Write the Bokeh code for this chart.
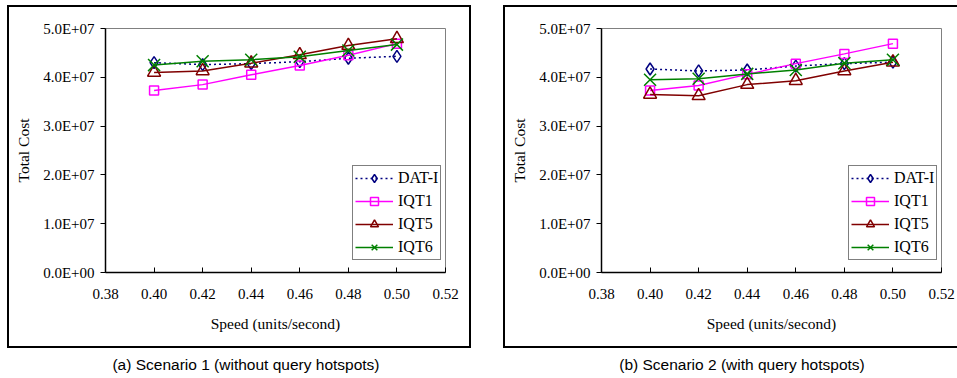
from bokeh.plotting import figure
from bokeh.models import (Range1d, FixedTicker, Legend, LegendItem, Div)
from bokeh.layouts import row, column
from bokeh.embed import file_html
from bokeh.resources import INLINE

# ---------------- data ----------------
speed = [0.40, 0.42, 0.44, 0.46, 0.48, 0.50]

s1_dati = [4.30e7, 4.26e7, 4.28e7, 4.32e7, 4.39e7, 4.43e7]
s1_iqt1 = [3.73e7, 3.85e7, 4.05e7, 4.24e7, 4.45e7, 4.69e7]
s1_iqt5 = [4.10e7, 4.13e7, 4.29e7, 4.46e7, 4.65e7, 4.79e7]
s1_iqt6 = [4.25e7, 4.33e7, 4.36e7, 4.42e7, 4.55e7, 4.67e7]

s2_dati = [4.17e7, 4.13e7, 4.15e7, 4.23e7, 4.28e7, 4.31e7]
s2_iqt1 = [3.73e7, 3.83e7, 4.06e7, 4.28e7, 4.48e7, 4.69e7]
s2_iqt5 = [3.65e7, 3.62e7, 3.85e7, 3.93e7, 4.13e7, 4.31e7]
s2_iqt6 = [3.95e7, 3.97e7, 4.07e7, 4.15e7, 4.29e7, 4.36e7]

series_names = ["DAT-I", "IQT1", "IQT5", "IQT6"]

x_ticks = [0.38, 0.40, 0.42, 0.44, 0.46, 0.48, 0.50, 0.52]
x_tick_labels = ["0.38", "0.40", "0.42", "0.44", "0.46", "0.48", "0.50", "0.52"]
y_ticks = [0, 10000000, 20000000, 30000000, 40000000, 50000000]
y_tick_labels = ["0.0E+00", "1.0E+07", "2.0E+07", "3.0E+07", "4.0E+07", "5.0E+07"]

captions = ["(a) Scenario 1 (without query hotspots)",
            "(b) Scenario 2 (with query hotspots)"]

SERIF = "Liberation Serif"

styles = {
    "DAT-I": dict(color="#000080", marker="diamond", size=12, dash="2 3"),
    "IQT1": dict(color="#FF00FF", marker="square", size=9, dash="solid"),
    "IQT5": dict(color="#800000", marker="triangle", size=13, dash="solid"),
    "IQT6": dict(color="#008000", marker="x", size=17, dash="solid"),
}


def make_panel(values, width, left_border, right_border):
    p = figure(width=width, height=339, output_backend="svg", toolbar_location=None,
               x_range=Range1d(0.38, 0.52), y_range=Range1d(0, 5e7),
               min_border_left=left_border, min_border_right=right_border,
               min_border_top=21, min_border_bottom=74)
    p.xgrid.visible = False
    p.ygrid.visible = False
    p.outline_line_color = "#808080"
    p.outline_line_width = 1
    p.background_fill_color = "white"
    p.border_fill_color = "white"

    p.xaxis.ticker = FixedTicker(ticks=x_ticks)
    p.xaxis.major_label_overrides = {t: l for t, l in zip(x_ticks, x_tick_labels)}
    p.yaxis.ticker = FixedTicker(ticks=y_ticks)
    p.yaxis.major_label_overrides = {t: l for t, l in zip(y_ticks, y_tick_labels)}
    for ax in (p.xaxis, p.yaxis):
        ax.axis_line_color = "black"
        ax.axis_line_width = 1.5
        ax.major_tick_line_color = "black"
        ax.major_tick_line_width = 1
        ax.minor_tick_line_color = None
        ax.major_label_text_font = SERIF
        ax.major_label_text_color = "black"
        ax.axis_label_text_font = SERIF
        ax.axis_label_text_font_style = "normal"
        ax.axis_label_text_font_size = "15.5px"
        ax.axis_label_text_color = "black"
    p.xaxis.major_tick_in = 5
    p.xaxis.major_tick_out = 0
    p.xaxis.major_label_text_font_size = "15px"
    p.xaxis.major_label_standoff = 16
    p.xaxis.axis_label = "Speed (units/second)"
    p.xaxis.axis_label_standoff = 13
    p.yaxis.major_tick_in = 0
    p.yaxis.major_tick_out = 5
    p.yaxis.major_label_text_font_size = "15px"
    p.yaxis.major_label_standoff = 6
    p.yaxis.axis_label = "Total Cost"
    p.yaxis.axis_label_standoff = 8

    items = []
    for name, ys in zip(series_names, values):
        st = styles[name]
        ln = p.line(speed, ys, line_color=st["color"], line_width=1.5, line_dash=st["dash"])
        mk = p.scatter(speed, ys, marker=st["marker"], size=st["size"],
                       line_color=st["color"], line_width=1.5, fill_color=None)
        items.append(LegendItem(label=name, renderers=[ln, mk]))

    legend = Legend(items=items, location=(247, 12),
                    label_text_font=SERIF, label_text_font_size="16px",
                    label_text_color="black",
                    glyph_width=38, glyph_height=20, label_height=20,
                    label_standoff=5, spacing=3, padding=2, margin=0,
                    border_line_color="black", border_line_width=1.5,
                    background_fill_color="white", background_fill_alpha=1)
    p.add_layout(legend)
    return p


p1 = make_panel([s1_dati, s1_iqt1, s1_iqt5, s1_iqt6], 460, 96, 24)
p2 = make_panel([s2_dati, s2_iqt1, s2_iqt5, s2_iqt6], 452, 96, 16)

c1 = column(p1, margin=(5, 0, 0, 7), styles={"border": "2px solid black"})
c2 = column(p2, margin=(5, 0, 0, 32),
            styles={"border": "2px solid black", "border-right": "none"})

cap_style = {"font-family": "Liberation Sans", "font-size": "15.5px", "color": "black",
             "text-align": "center", "line-height": "18px"}
d1 = Div(text=captions[0], width=492, height=18, margin=(8, 0, 0, 0), styles=cap_style)
d2 = Div(text=captions[1], width=420, height=18, margin=(8, 0, 0, 40), styles=cap_style)

layout = column(row(c1, c2), row(d1, d2))

open("out.html", "w").write(file_html(layout, INLINE))
